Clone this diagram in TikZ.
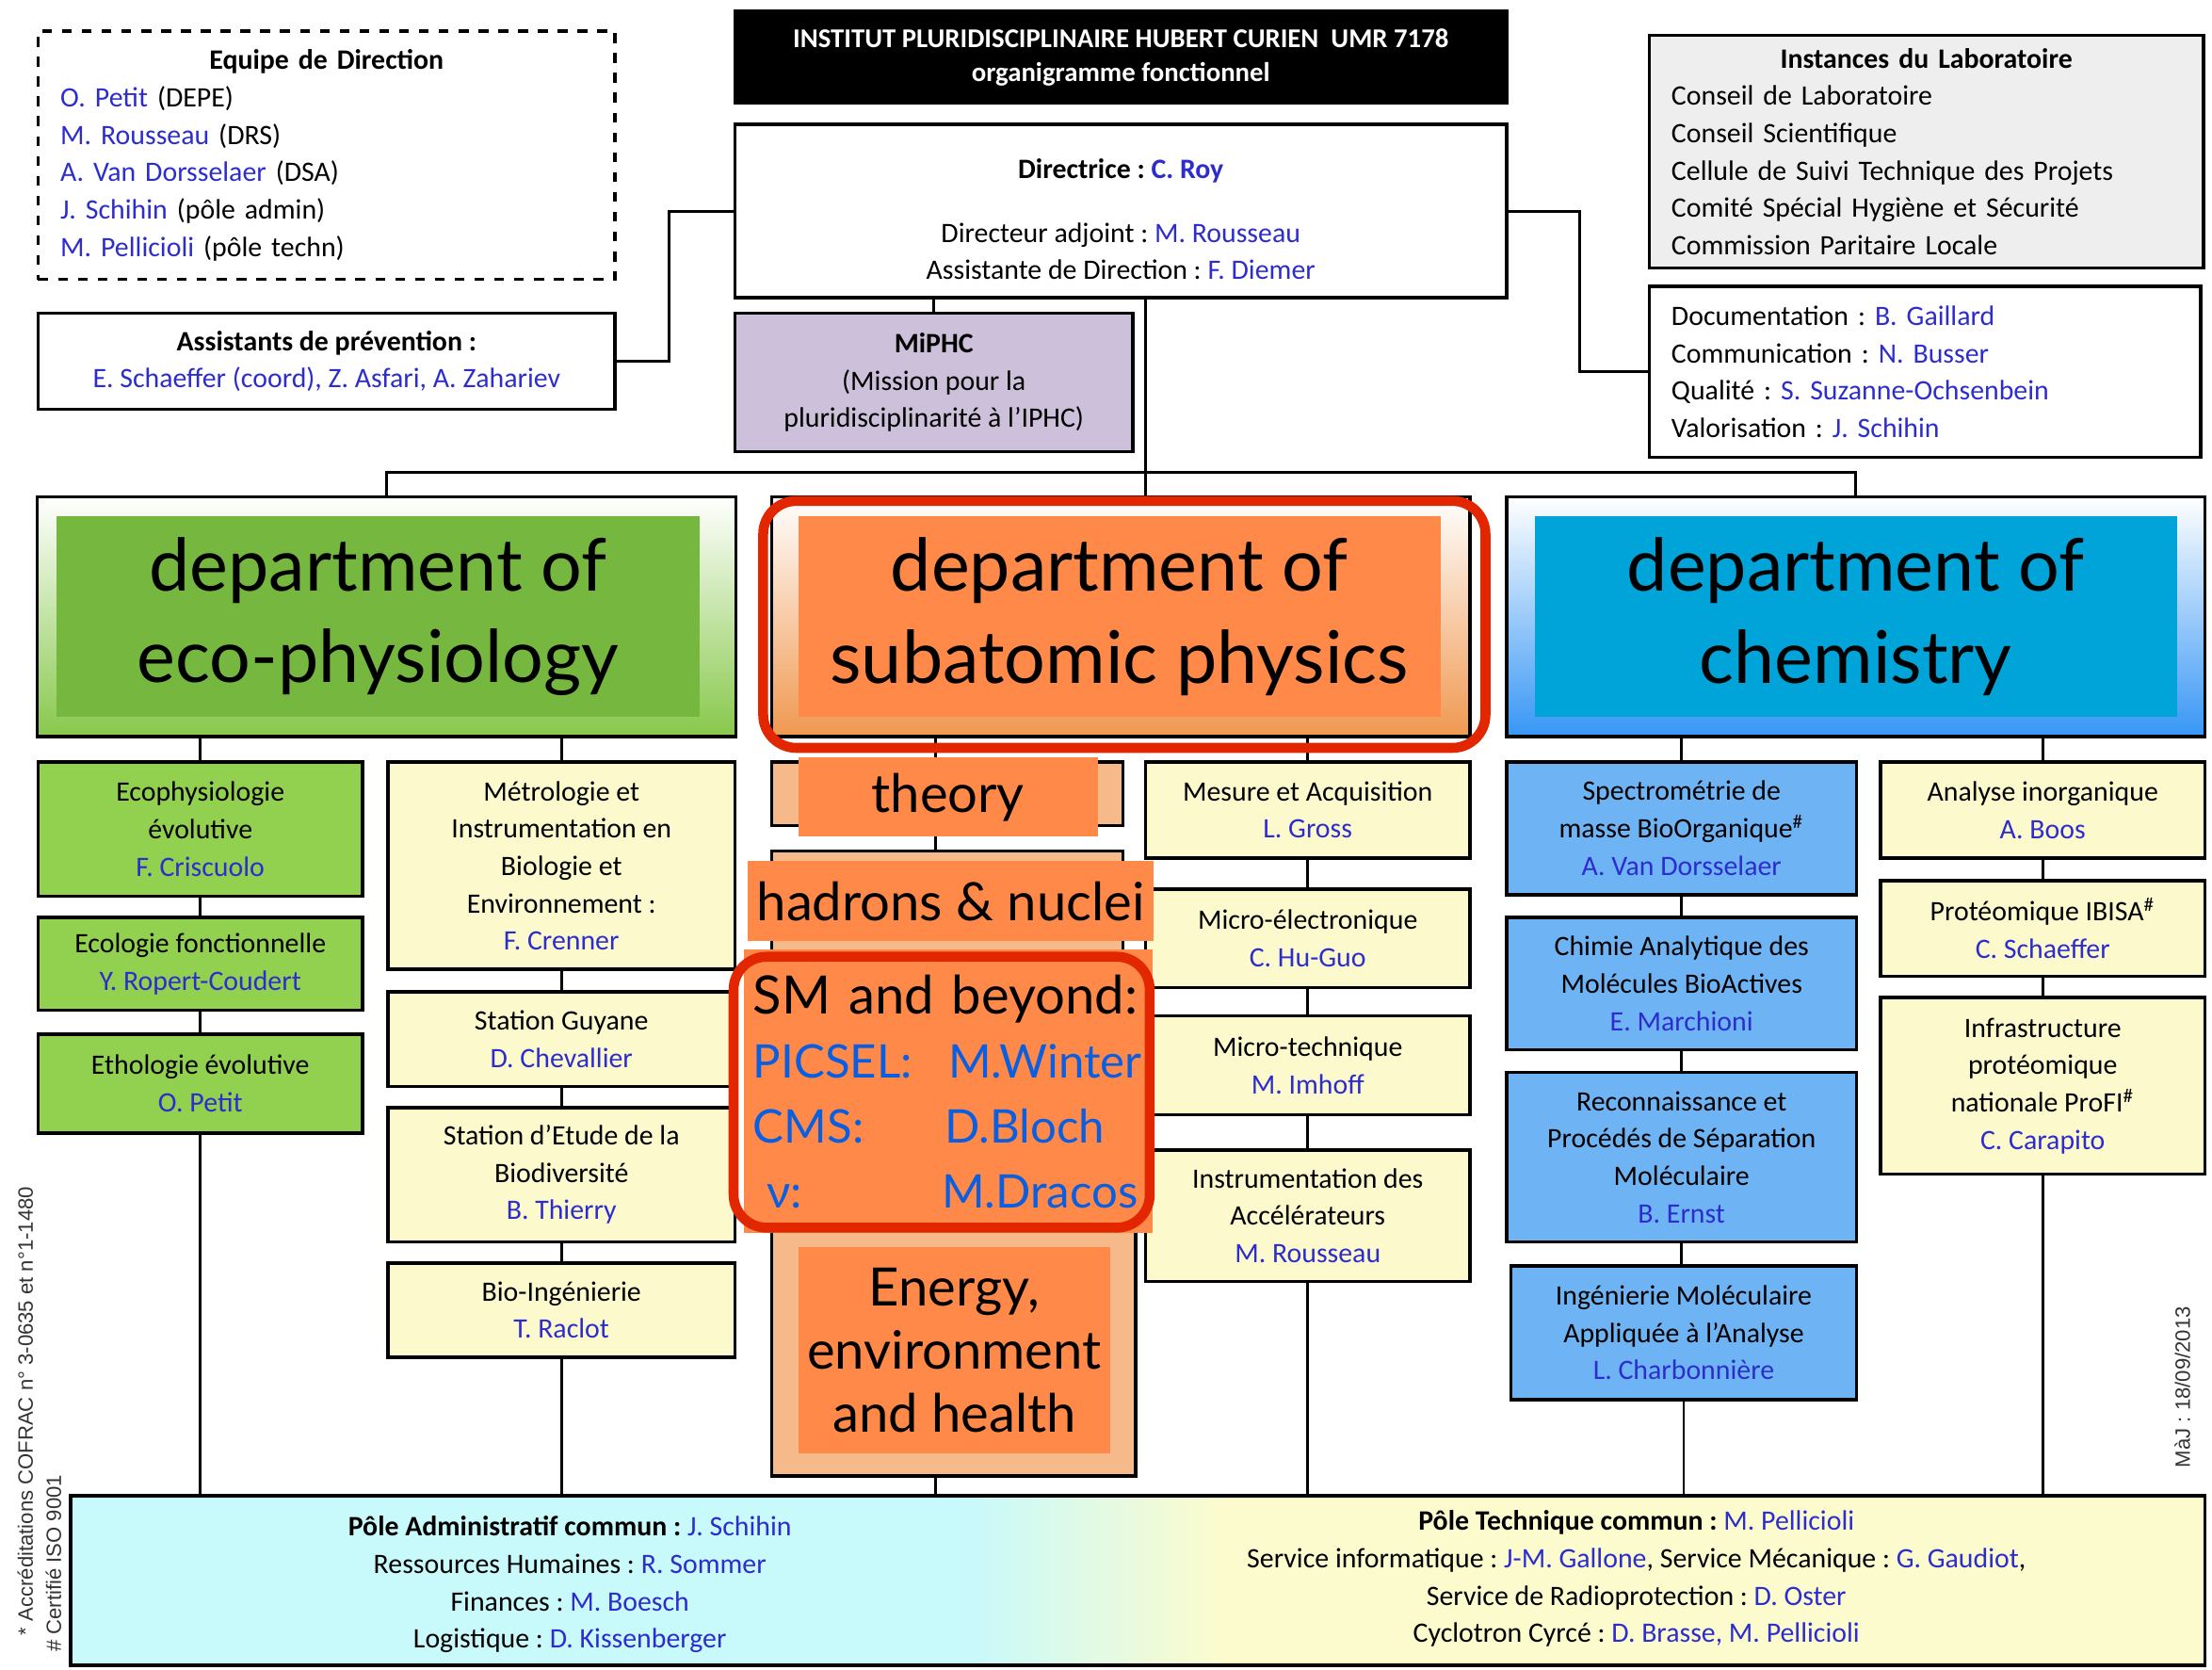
\documentclass[tikz,border=0pt]{standalone}
\usepackage{fontspec}
\setmainfont{Carlito}
\newfontfamily\gillfont{Lato}
\newfontfamily\notefont{Liberation Sans}
\usepackage{xcolor}
\usepackage{tikz}

\definecolor{namecol}{RGB}{45,45,205}
\definecolor{ecogreen}{RGB}{146,208,80}
\definecolor{ecolabel}{RGB}{118,183,64}
\definecolor{ecobot}{RGB}{135,200,75}
\definecolor{yellbox}{RGB}{252,250,205}
\definecolor{lilac}{RGB}{204,192,218}
\definecolor{instgray}{RGB}{238,238,238}
\definecolor{chembox}{RGB}{110,180,245}
\definecolor{chemlabel}{RGB}{0,164,216}
\definecolor{chembot}{RGB}{55,150,245}
\definecolor{sublabel}{RGB}{255,137,72}
\definecolor{sublight}{RGB}{245,185,138}
\definecolor{subbot}{RGB}{240,152,80}
\definecolor{ringred}{RGB}{226,38,0}
\definecolor{smblue}{RGB}{10,95,225}
\definecolor{poleleft}{RGB}{200,249,251}
\definecolor{poleright}{RGB}{252,251,205}

\pgfdeclarehorizontalshading{poleshade}{100bp}{color(0bp)=(poleleft); color(46bp)=(poleleft); color(52bp)=(poleright); color(100bp)=(poleright)}

\tikzset{boxsize/.style 2 args={minimum width={#1*0.015cm}, minimum height={#2*0.015cm}}}
\newcommand{\nm}[1]{\textcolor{namecol}{#1}}
\newcommand{\smline}[2]{\textcolor{smblue}{\fontsize{14}{19.6}\selectfont\makebox[59pt][l]{#1}#2}}
\frenchspacing

\begin{document}
\begin{tikzpicture}[x=0.015cm,y=-0.015cm,line width=0.8pt]
\useasboundingbox (0,0) rectangle (1568,1183);
\tikzstyle{unit}=[draw, line width=1pt, align=center, inner sep=1pt, font=\fontsize{8.5}{11.3}\selectfont]
\tikzstyle{dept}=[draw, line width=1pt, boxsize={495}{170}]
\tikzstyle{deptlabel}=[inner sep=0pt, align=center, boxsize={455}{142}, font=\gillfont\fontsize{22}{27.7}\selectfont]
\tikzstyle{subtag}=[fill=sublabel, inner sep=0pt, align=center, font=\gillfont\fontsize{16}{19.5}\selectfont]
\tikzstyle{ring}=[draw=ringred, line width=3pt, rounded corners=10pt]
\tikzstyle{note}=[rotate=90, inner sep=0pt, text=black!80, font=\notefont\fontsize{6.3}{7}\selectfont]

% direction
\node[unit, fill=black, text=white, font=\bfseries\fontsize{8.2}{10.2}\selectfont, boxsize={547}{65}] (title) at (794.5,40.5)
    {INSTITUT PLURIDISCIPLINAIRE HUBERT CURIEN~~UMR 7178\\organigramme fonctionnel};
\node[unit, fill=white, boxsize={547}{123}] (dir) at (794.5,149.5)
    {\rule{0pt}{11pt}\textbf{Directrice : \nm{C. Roy}}\\[8pt]Directeur adjoint : \nm{M. Rousseau}\\Assistante de Direction : \nm{F. Diemer}};
\node[unit, fill=lilac, boxsize={282}{98}] (miphc) at (662,271)
    {\textbf{MiPHC}\\(Mission pour la\\pluridisciplinarité à l’IPHC)};
\node[unit, dashed, align=left, text width=5.66cm, boxsize={409}{176}] (equipe) at (231.5,110)
    {\makebox[\linewidth]{\textbf{Equipe de Direction}}\\\nm{O. Petit} (DEPE)\\\nm{M. Rousseau} (DRS)\\\nm{A. Van Dorsselaer} (DSA)\\\nm{J. Schihin} (pôle admin)\\\nm{M. Pellicioli} (pôle techn)};
\node[unit, boxsize={409}{68}] (assist) at (231.5,256)
    {\textbf{Assistants de prévention :}\\\nm{E. Schaeffer (coord), Z. Asfari, A. Zahariev}};
\node[unit, fill=instgray, align=left, text width=5.42cm, boxsize={393}{165}] (inst) at (1365.5,107.5)
    {\makebox[\linewidth]{\textbf{Instances du Laboratoire}}\\Conseil de Laboratoire\\Conseil Scientifique\\Cellule de Suivi Technique des Projets\\Comité Spécial Hygiène et Sécurité\\Commission Paritaire Locale};
\node[unit, align=left, text width=5.39cm, boxsize={391}{121}] (docu) at (1364.5,263.5)
    {Documentation : \nm{B. Gaillard}\\Communication : \nm{N. Busser}\\Qualité : \nm{S. Suzanne-Ochsenbein}\\Valorisation : \nm{J. Schihin}};

% departments
\node[dept, top color=white, bottom color=ecobot] (eco) at (274,437) {};
\node[dept, top color=white, bottom color=subbot] (sub) at (794.5,437) {};
\node[dept, top color=white, bottom color=chembot] (chem) at (1315.5,437) {};

% eco-physiology
\node[unit, fill=ecogreen, boxsize={230}{95}] (ecoA) at (142,587.5) {Ecophysiologie\\évolutive\\\nm{F. Criscuolo}};
\node[unit, fill=ecogreen, boxsize={230}{66}] (ecoB) at (142,683) {Ecologie fonctionnelle\\\nm{Y. Ropert-Coudert}};
\node[unit, fill=ecogreen, boxsize={230}{70}] (ecoC) at (142,768) {Ethologie évolutive\\\nm{O. Petit}};
\node[unit, fill=yellbox, boxsize={246}{147}] (ecoD) at (398,613.5) {Métrologie et\\Instrumentation en\\Biologie et\\Environnement :\\\nm{F. Crenner}};
\node[unit, fill=yellbox, boxsize={246}{67}] (ecoE) at (398,736.5) {Station Guyane\\\nm{D. Chevallier}};
\node[unit, fill=yellbox, boxsize={246}{95}] (ecoF) at (398,832.5) {Station d’Etude de la\\Biodiversité\\\nm{B. Thierry}};
\node[unit, fill=yellbox, boxsize={246}{67}] (ecoG) at (398,928.5) {Bio-Ingénierie\\\nm{T. Raclot}};

% subatomic physics
\node[unit, fill=sublight, boxsize={249}{45}] (subA) at (671.5,562.5) {};
\node[unit, fill=sublight, boxsize={249}{87}] (subB) at (671.5,646.5) {};
\node[unit, fill=sublight, boxsize={258}{186}] (energy) at (676,953) {};
\node[unit, fill=yellbox, boxsize={230}{68}] (subC) at (927,574) {Mesure et Acquisition\\\nm{L. Gross}};
\node[unit, fill=yellbox, boxsize={230}{70}] (subD) at (927,665) {Micro-électronique\\\nm{C. Hu-Guo}};
\node[unit, fill=yellbox, boxsize={230}{70}] (subE) at (927,755) {Micro-technique\\\nm{M. Imhoff}};
\node[unit, fill=yellbox, boxsize={230}{93}] (subF) at (927,861.5) {Instrumentation des\\Accélérateurs\\\nm{M. Rousseau}};

% chemistry
\node[unit, fill=chembox, boxsize={248}{94}] (chA) at (1192,587) {Spectrométrie de\\masse BioOrganique\textsuperscript{\#}\\\nm{A. Van Dorsselaer}};
\node[unit, fill=chembox, boxsize={248}{94}] (chB) at (1192,697) {Chimie Analytique des\\Molécules BioActives\\\nm{E. Marchioni}};
\node[unit, fill=chembox, boxsize={248}{120}] (chC) at (1192,820) {Reconnaissance et\\Procédés de Séparation\\Moléculaire\\\nm{B. Ernst}};
\node[unit, fill=chembox, boxsize={245}{95}] (chD) at (1193.5,944.5) {Ingénierie Moléculaire\\Appliquée à l’Analyse\\\nm{L. Charbonnière}};
\node[unit, fill=yellbox, boxsize={230}{68}] (chE) at (1448,574) {Analyse inorganique\\\nm{A. Boos}};
\node[unit, fill=yellbox, boxsize={230}{68}] (chF) at (1448,658) {Protéomique IBISA\textsuperscript{\#}\\\nm{C. Schaeffer}};
\node[unit, fill=yellbox, boxsize={230}{125}] (chG) at (1448,769.5) {Infrastructure\\protéomique\\nationale ProFI\textsuperscript{\#}\\\nm{C. Carapito}};

% common services
\node[unit, shade, shading=poleshade, boxsize={1513}{120}] (pole) at (806.5,1120) {};
\node[align=center, inner sep=0pt, font=\fontsize{8.5}{11.3}\selectfont] (admin) at (404,1123)
    {\textbf{Pôle Administratif commun :} \nm{J. Schihin}\\Ressources Humaines : \nm{R. Sommer}\\Finances : \nm{M. Boesch}\\Logistique : \nm{D. Kissenberger}};
\node[align=center, inner sep=0pt, font=\fontsize{8.5}{11.3}\selectfont] (tech) at (1160,1119)
    {\textbf{Pôle Technique commun :} \nm{M. Pellicioli}\\Service informatique : \nm{J-M. Gallone}, Service Mécanique : \nm{G. Gaudiot},\\Service de Radioprotection : \nm{D. Oster}\\Cyclotron Cyrcé : \nm{D. Brasse, M. Pellicioli}};

% connectors
\coordinate (trunk) at (812,335);
\coordinate (lj) at (474,150);
\coordinate (rj) at (1120,150);
\coordinate (subcol) at (663,540);
\draw (trunk |- dir.south) -- (trunk |- sub.north);
\draw (eco.north) |- (trunk) -| (chem.north);
\draw (miphc.north) -- (miphc.north |- dir.south);
\draw (assist.east) -| (lj) -- (lj -| dir.west);
\draw (rj -| dir.east) -- (rj) |- (docu.west);
\foreach \d/\b in {eco/ecoA, eco/ecoD, sub/subC, chem/chA, chem/chE}
    \draw (\b.north |- \d.south) -- (\b.north);
\foreach \a/\b in {ecoA/ecoB, ecoB/ecoC, ecoD/ecoE, ecoE/ecoF, ecoF/ecoG, subC/subD, subD/subE, subE/subF, chA/chB, chB/chC, chC/chD, chE/chF, chF/chG}
    \draw (\a.south) -- (\a.south |- \b.north);
\foreach \b in {ecoC, ecoG, subF, chD, chG}
    \draw (\b.south) -- (\b.south |- pole.north);
\draw (subcol |- sub.south) -- (subcol |- subA.north);
\draw (subcol |- subA.south) -- (subcol |- subB.north);
\draw (subcol |- energy.south) -- (subcol |- pole.north);

% overlays
\node[deptlabel, fill=ecolabel, boxsize={456}{142}] (ecotag) at (268,437) {department of\\eco-physiology};
\node[deptlabel, fill=sublabel] (subtag) at (793.5,437) {department of\\subatomic physics};
\node[deptlabel, fill=chemlabel] (chemtag) at (1315.5,437) {department of\\chemistry};
\node[ring, boxsize={512}{175}] (subring) at (797,442.5) {};
\node[subtag, boxsize={212}{56}] (theory) at (672,565) {theory};
\node[subtag, boxsize={288}{57}] (hadrons) at (674,638.5) {hadrons \& nuclei};
\node[subtag, align=left, text width=4.14cm, boxsize={290}{201}, font=\gillfont\fontsize{16}{19.6}\selectfont] (sm) at (672,773.5)
    {SM and beyond:\\\smline{PICSEL:}{M.Winter}\\\smline{CMS:}{\hspace{-1pt}D.Bloch}\\\smline{\hspace{4pt}ν:}{\hspace{-2pt}M.Dracos}};
\node[ring, boxsize={295}{192}] (smring) at (667.5,774) {};
\node[subtag, boxsize={221}{146}, font=\gillfont\fontsize{16}{19.2}\selectfont] (energytag) at (676.5,957) {Energy,\\environment\\and health};

% notes
\node[note] (cofrac) at (18,1000) {* Accréditations COFRAC n° 3-0635 et n°1-1480};
\node[note] (iso) at (38,1108) {\# Certifié ISO 9001};
\node[note] (maj) at (1547,983) {MàJ : 18/09/2013};
\end{tikzpicture}
\end{document}
